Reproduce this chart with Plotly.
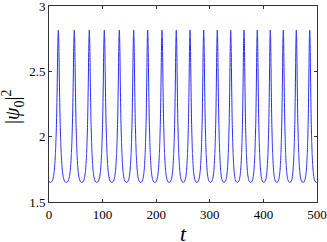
import plotly.graph_objects as go

# Peak times
peak_t = [17.4, 47.2, 75.2, 103.2, 131.2, 158.0, 184.1, 210.8, 237.5, 263.1,
          288.6, 314.0, 339.0, 363.8, 388.6, 412.9, 437.1, 461.4, 486.4]
peak_val = 2.815
trough_val = 1.65
# One period's shape: phase distance from peak (fraction of period) -> height fraction
prof_phase = [0.0, 0.02, 0.04, 0.07, 0.11, 0.15, 0.18, 0.22, 0.25, 0.3, 0.36, 0.43, 0.5]
prof_frac = [1.0, 0.96, 0.86, 0.64, 0.41, 0.27, 0.19, 0.12, 0.08, 0.04, 0.015, 0.003, 0.0]
x_ticks = [0, 100, 200, 300, 400, 500]
y_ticks = [1.5, 2, 2.5, 3]
y_ticktext = ["1.5", "2", "2.5", "3"]

t = []
y = []
periods = [peak_t[i + 1] - peak_t[i] for i in range(len(peak_t) - 1)]
ext = [peak_t[0] - periods[0]] + peak_t + [peak_t[-1] + periods[-1]]
for i in range(len(ext) - 1):
    a, b = ext[i], ext[i + 1]
    T = b - a
    for p, f in zip(prof_phase, prof_frac):
        t.append(a + p * T)
        y.append(trough_val + f * (peak_val - trough_val))
    for p, f in zip(reversed(prof_phase[1:-1]), reversed(prof_frac[1:-1])):
        t.append(b - p * T)
        y.append(trough_val + f * (peak_val - trough_val))
t.append(ext[-1])
y.append(peak_val)

fig = go.Figure()
fig.add_trace(go.Scatter(x=t, y=y, mode="lines",
                         line=dict(color="#2b2bff", width=1, shape="spline", smoothing=0.5)))

serif = "Liberation Serif, Times New Roman, serif"
fig.update_layout(
    width=327, height=242,
    margin=dict(l=49, r=10, t=6, b=40, autoexpand=False),
    paper_bgcolor="white", plot_bgcolor="white",
    showlegend=False,
    font=dict(family=serif, size=13, color="black"),
    xaxis=dict(range=[0, 500], tickvals=x_ticks,
               ticks="inside", ticklen=3, tickcolor="#333",
               showline=True, linecolor="#333", linewidth=1, mirror="ticks",
               showgrid=False, zeroline=False, ticklabeloverflow="allow",
               automargin=False),
    yaxis=dict(range=[1.5, 3], tickvals=y_ticks, ticktext=y_ticktext,
               ticks="inside", ticklen=3, tickcolor="#333",
               showline=True, linecolor="#333", linewidth=1, mirror="ticks",
               showgrid=False, zeroline=False, ticklabeloverflow="allow",
               automargin=False),
    annotations=[
        dict(text="<i>t</i>", xref="paper", yref="paper", x=0.5, y=0,
             xanchor="center", yanchor="middle", yshift=-31, showarrow=False,
             font=dict(family=serif, size=22)),
        dict(text="|<i>ψ</i><sub>0</sub>|<sup>2</sup>", xref="paper", yref="paper",
             x=0, y=0.5, xanchor="center", yanchor="middle", xshift=-36, yshift=-3,
             textangle=-90, showarrow=False, font=dict(family=serif, size=20)),
    ],
)
fig.write_html("out.html", config={"displayModeBar": False},
               post_script="document.body.style.margin='0px';document.body.style.padding='0px';")
